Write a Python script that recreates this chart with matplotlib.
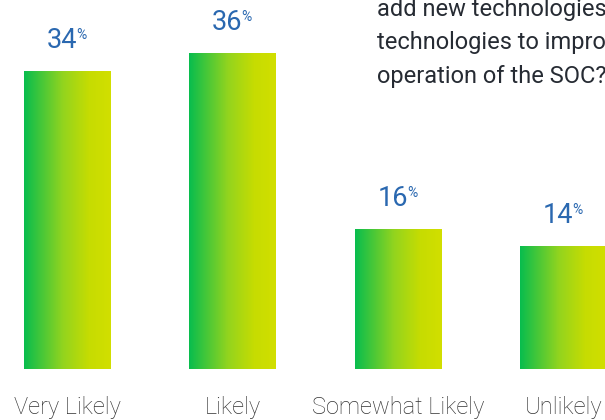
import numpy as np
import matplotlib.pyplot as plt
from matplotlib.colors import LinearSegmentedColormap

categories = ["Very Likely", "Likely", "Somewhat Likely", "Unlikely"]
values = [34, 36, 16, 14]
question = ["add new technologies or replace existing",
            "technologies to improve the",
            "operation of the SOC?"]

plt.rcParams['font.family'] = ['Roboto', 'DejaVu Sans']

fig = plt.figure(figsize=(6.05, 4.2), dpi=100)
ax = fig.add_axes([0, 51 / 420, 1, 369 / 420])
ax.axis("off")

# horizontal green -> lime gradient in every bar
grad = LinearSegmentedColormap.from_list(
    "g", [(0, "#08bd4e"), (0.45, "#93d41e"), (0.75, "#c6dc02"), (1, "#d2df00")])
strip = np.linspace(0, 1, 256).reshape(1, -1)
width = 0.52

x = np.arange(len(values))
for i, v in zip(x, values):
    bar = ax.bar(i, v, width=width, color="none", edgecolor="none")[0]
    im = ax.imshow(strip, cmap=grad, aspect="auto",
                   extent=[i - width / 2, i + width / 2, 0, v], zorder=1)
    im.set_clip_path(bar)
    ax.annotate(str(v), xy=(i, v), xytext=(10, 23), textcoords="offset pixels",
                ha="right", va="baseline", fontsize=19.5, color="#2a68b0")
    ax.annotate("%", xy=(i, v), xytext=(9, 32), textcoords="offset pixels",
                ha="left", va="baseline", fontsize=10, color="#2a68b0")
    fig.text((i + 0.405) / 3.656, 6 / 420, categories[i], ha="center",
             va="baseline", fontsize=17, color="#333333", fontweight="light")

ax.set_xlim(-0.405, 3.251)
ax.set_ylim(0, 42.08)

for k, line in enumerate(question):
    fig.text(377 / 605, 1 - (16 + 33.5 * k) / 420, line, ha="left",
             va="baseline", fontsize=17, color="#262b33")

fig.savefig("out.png", dpi=100)
